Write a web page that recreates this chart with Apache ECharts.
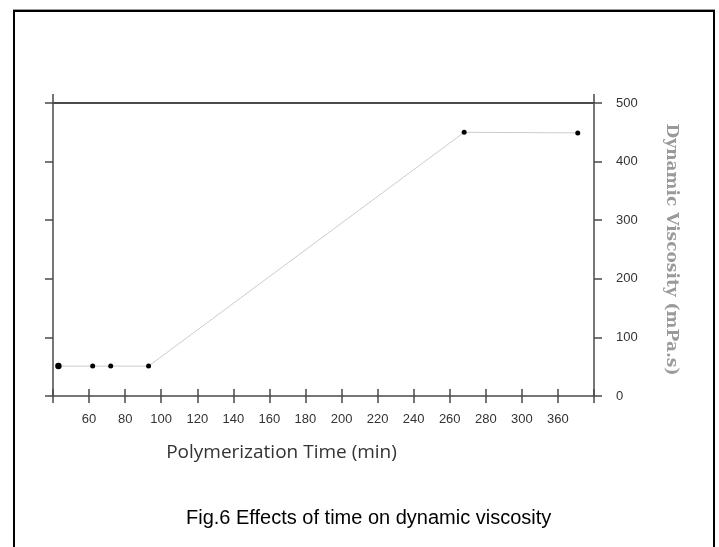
<!DOCTYPE html>
<html>
<head>
<meta charset="utf-8">
<script src="https://cdn.jsdelivr.net/npm/echarts@6.0.0/dist/echarts.min.js"></script>
<style>
  html, body { margin: 0; padding: 0; background: #fff; }
  #main { width: 719px; height: 547px; }
</style>
</head>
<body>
<div id="main"></div>
<script>
// polymerization time (read along the drawn axis) and viscosity
var timeValues = [43, 62, 72, 93, 268, 331];
var viscosityValues = [51, 51, 51, 51, 450, 449];
// tick labels on the time axis (the last one is printed as 360)
var xTickLabels = ['60', '80', '100', '120', '140', '160', '180', '200', '220', '240', '260', '280', '300', '360'];
var yTickLabels = ['0', '100', '200', '300', '400', '500'];

var points = [];
for (var i = 0; i < timeValues.length; i++) {
    points.push({
        value: [timeValues[i], viscosityValues[i]],
        symbolSize: i === 0 ? 6.5 : 5
    });
}

var axisColor = '#4a4a4a';
var myChart = echarts.init(document.getElementById('main'));
var option = {
    backgroundColor: '#ffffff',
    animation: false,
    title: {
        text: 'Fig.6 Effects of time on dynamic viscosity',
        left: 181,
        top: 503,
        textStyle: {
            fontFamily: 'Liberation Sans, Arial',
            fontSize: 20,
            fontWeight: 'normal',
            color: '#000'
        }
    },
    graphic: [
        {
            type: 'line',
            shape: {x1: 13, y1: 9.5, x2: 715, y2: 9.5},
            style: {stroke: '#9a9a9a', lineWidth: 1}
        },
        {
            type: 'rect',
            shape: {x: 14, y: 11, width: 700, height: 545},
            style: {fill: null, stroke: '#000', lineWidth: 2}
        }
    ],
    grid: {
        left: 53,
        right: 125,
        top: 103,
        bottom: 151
    },
    xAxis: [
        {
            type: 'value',
            position: 'bottom',
            min: 40,
            max: 340,
            interval: 20,
            name: 'Polymerization Time (min)',
            nameLocation: 'middle',
            nameGap: 47,
            nameTextStyle: {
                fontFamily: 'Open Sans',
                fontSize: 19,
                color: '#333',
                padding: [0, 84, 0, 0]
            },
            axisLine: {lineStyle: {color: axisColor, width: 1.5}},
            axisTick: {length: 7, lineStyle: {color: axisColor, width: 1.5}},
            axisLabel: {
                margin: 17,
                fontFamily: 'Liberation Sans, Arial',
                fontSize: 13,
                color: '#333',
                formatter: function (v) {
                    var k = Math.round((v - 60) / 20);
                    return (k >= 0 && k < xTickLabels.length) ? xTickLabels[k] : '';
                }
            },
            splitLine: {show: false}
        },
        {
            type: 'value',
            position: 'bottom',
            min: 40,
            max: 340,
            interval: 20,
            axisLine: {show: false},
            axisTick: {inside: true, length: 7, lineStyle: {color: axisColor, width: 1.5}},
            axisLabel: {show: false},
            splitLine: {show: false}
        },
        {
            type: 'value',
            position: 'top',
            min: 0,
            max: 300,
            interval: 300,
            axisLine: {lineStyle: {color: axisColor, width: 2}},
            axisTick: {length: 9, lineStyle: {color: axisColor, width: 1.5}},
            axisLabel: {show: false},
            splitLine: {show: false}
        }
    ],
    yAxis: [
        {
            type: 'value',
            position: 'left',
            min: 0,
            max: 500,
            interval: 100,
            axisLine: {show: true, lineStyle: {color: axisColor, width: 1.5}},
            axisTick: {show: true, length: 8, lineStyle: {color: axisColor, width: 1.5}},
            axisLabel: {show: false},
            splitLine: {show: false}
        },
        {
            type: 'value',
            position: 'right',
            min: 0,
            max: 500,
            interval: 100,
            name: 'Dynamic Viscosity (mPa.s)',
            nameLocation: 'middle',
            nameRotate: -90,
            nameGap: 69,
            nameTextStyle: {
                fontFamily: 'DejaVu Serif',
                fontWeight: 'bold',
                fontSize: 17,
                color: '#9a9a9a'
            },
            axisLine: {show: true, lineStyle: {color: axisColor, width: 1.5}},
            axisTick: {show: true, length: 8, lineStyle: {color: axisColor, width: 1.5}},
            axisLabel: {
                margin: 22,
                fontFamily: 'Liberation Sans, Arial',
                fontSize: 13,
                color: '#333',
                formatter: function (v) {
                    var k = Math.round(v / 100);
                    return yTickLabels[k] || '';
                }
            },
            splitLine: {show: false}
        }
    ],
    series: [
        {
            type: 'line',
            xAxisIndex: 0,
            yAxisIndex: 1,
            data: points,
            symbol: 'circle',
            symbolSize: 5,
            itemStyle: {color: '#000'},
            lineStyle: {color: '#cccccc', width: 1}
        }
    ]
};
myChart.setOption(option);
</script>
</body>
</html>
